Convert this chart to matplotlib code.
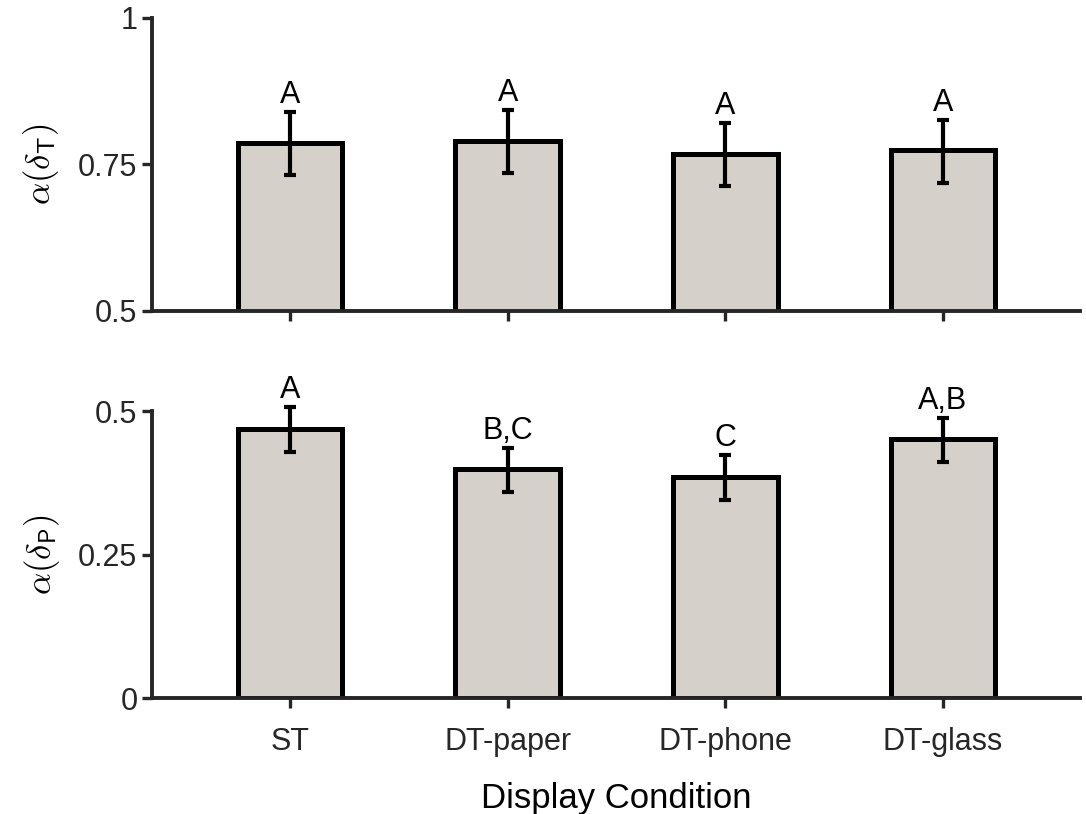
import matplotlib
matplotlib.use("Agg")
import matplotlib.pyplot as plt
import numpy as np

conditions = ["ST", "DT-paper", "DT-phone", "DT-glass"]

alpha_t = [0.787, 0.790, 0.768, 0.775]
alpha_t_lo = [0.732, 0.735, 0.713, 0.718]
alpha_t_hi = [0.840, 0.843, 0.821, 0.826]
letters_t = ["A", "A", "A", "A"]

alpha_p = [0.469, 0.399, 0.385, 0.451]
alpha_p_lo = [0.429, 0.359, 0.345, 0.411]
alpha_p_hi = [0.507, 0.436, 0.423, 0.488]
letters_p = ["A", "B,C", "C", "A,B"]

plt.rcParams.update({
    "font.family": ["Liberation Sans", "DejaVu Sans"],
    "mathtext.fontset": "cm",
    "axes.edgecolor": "#262626",
    "xtick.color": "#262626",
    "ytick.color": "#262626",
    "text.color": "#262626",
})

FILL = "#d5d1ca"

fig = plt.figure(figsize=(10.86, 8.14), dpi=100)
ax1 = fig.add_axes([0.140, 0.618, 0.8545, 0.360])
ax2 = fig.add_axes([0.140, 0.1425, 0.8545, 0.3525])

x = np.arange(1, len(conditions) + 1)


def panel(ax, vals, lo, hi, letters, ylim, yticks, yticklabels, ylabel):
    vals = np.array(vals)
    err = [vals - np.array(lo), np.array(hi) - vals]
    ax.bar(x, vals, width=0.48, color=FILL, edgecolor="black", linewidth=3.6,
           zorder=2)
    eb = ax.errorbar(x, vals, yerr=err, fmt="none", ecolor="black",
                     elinewidth=3.0, capsize=4, capthick=3.0, zorder=3)
    for art in eb.lines[1] + eb.lines[2]:
        art.set_clip_on(False)
    for xi, h, lab in zip(x, hi, letters):
        ax.annotate(lab, (xi, h), xytext=(0, 1.5), textcoords="offset points",
                    ha="center", va="bottom", fontsize=22, color="black",
                    annotation_clip=False)
    ax.set_xlim(0.366, 4.63)
    ax.set_ylim(*ylim)
    ax.set_yticks(yticks)
    ax.set_yticklabels(yticklabels, fontsize=22)
    ax.set_xticks(x)
    ax.set_ylabel(ylabel, fontsize=25, labelpad=12)
    for s in ["top", "right"]:
        ax.spines[s].set_visible(False)
    for s in ["left", "bottom"]:
        ax.spines[s].set_linewidth(2.8)
    ax.tick_params(direction="out", length=7, width=2.4)


panel(ax1, alpha_t, alpha_t_lo, alpha_t_hi, letters_t, (0.5, 1.0),
      [0.5, 0.75, 1.0], ["0.5", "0.75", "1"], r"$\alpha(\delta_{\mathsf{T}})$")
ax1.set_xticklabels([])

panel(ax2, alpha_p, alpha_p_lo, alpha_p_hi, letters_p, (0, 0.5),
      [0, 0.25, 0.5], ["0", "0.25", "0.5"], r"$\alpha(\delta_{\mathsf{P}})$")
ax2.set_xticklabels(conditions, fontsize=22)
ax2.tick_params(axis="x", pad=14)
ax2.set_xlabel("Display Condition", fontsize=25, labelpad=18)

fig.savefig("out.png", dpi=100)
